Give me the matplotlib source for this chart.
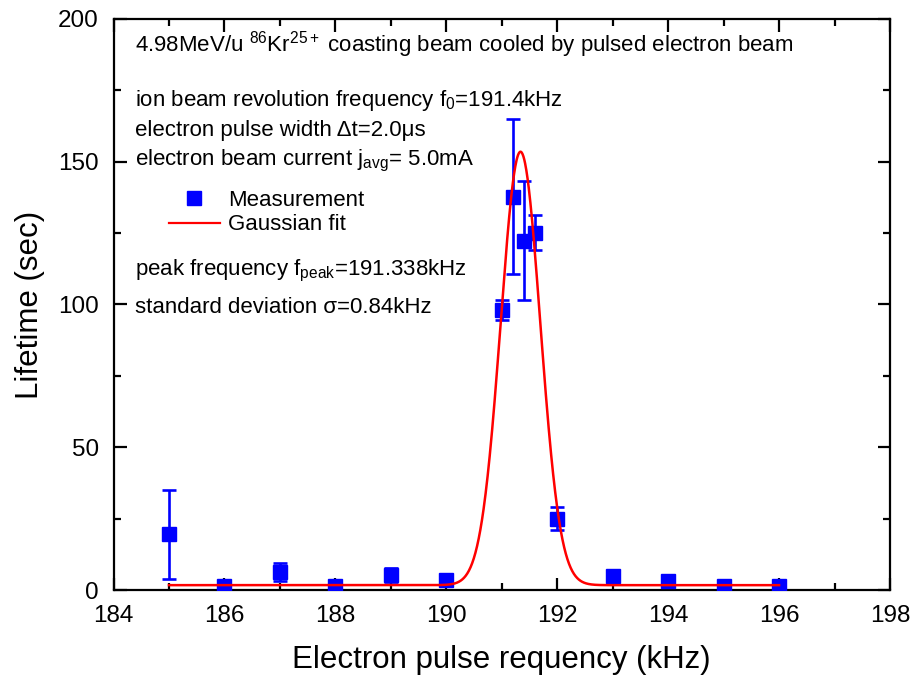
import numpy as np
import matplotlib
matplotlib.use("Agg")
import matplotlib.pyplot as plt
from matplotlib.ticker import MultipleLocator
from matplotlib.lines import Line2D

plt.rcParams["font.family"] = ["Liberation Sans", "DejaVu Sans"]
plt.rcParams["mathtext.fontset"] = "custom"
plt.rcParams["mathtext.rm"] = "Liberation Sans"
plt.rcParams["mathtext.it"] = "Liberation Sans"

# Measured lifetimes vs. electron pulse frequency
freq_khz = [185.0, 186.0, 187.0, 188.0, 189.0, 190.0, 191.0, 191.2, 191.4, 191.6,
            192.0, 193.0, 194.0, 195.0, 196.0]
lifetime_s = [19.5, 1.4, 6.3, 1.5, 5.2, 3.5, 98.0, 137.8, 122.3, 125.1,
              25.0, 4.9, 3.1, 1.5, 1.4]
lifetime_err = [15.7, 0.8, 3.0, 0.8, 2.4, 1.2, 3.6, 27.0, 20.8, 6.1,
                4.1, 0.8, 0.8, 0.6, 1.0]

# Gaussian fit parameters
f_peak = 191.338
fwhm = 0.84
amplitude = 151.8
baseline = 1.7
fit_range = (185.0, 196.0)

fig = plt.figure(figsize=(9.14, 6.77), dpi=100)
ax = fig.add_axes([0.1242, 0.1285, 0.8495, 0.8435])

sigma = fwhm / (2.0 * np.sqrt(2.0 * np.log(2.0)))
xf = np.linspace(fit_range[0], fit_range[1], 1500)
yf = baseline + amplitude * np.exp(-(xf - f_peak) ** 2 / (2.0 * sigma ** 2))

ax.errorbar(freq_khz, lifetime_s, yerr=lifetime_err, fmt="s", color="#0000ff",
            ms=9.5, elinewidth=1.9, capsize=5, capthick=1.9, zorder=3)
ax.plot(xf, yf, color="#ff0000", lw=1.8, zorder=4)

ax.set_xlim(184, 198)
ax.set_ylim(0, 200)
ax.xaxis.set_major_locator(MultipleLocator(2))
ax.xaxis.set_minor_locator(MultipleLocator(1))
ax.yaxis.set_major_locator(MultipleLocator(50))
ax.yaxis.set_minor_locator(MultipleLocator(25))
ax.tick_params(which="both", direction="in", top=True, right=True, width=1.6)
ax.tick_params(which="major", length=9, labelsize=17.5, pad=10.5)
ax.tick_params(which="minor", length=5)
for sp in ax.spines.values():
    sp.set_linewidth(1.6)

ax.set_xlabel("Electron pulse requency (kHz)", fontsize=22.5, labelpad=13)
ax.set_ylabel("Lifetime (sec)", fontsize=22.5, labelpad=9.5)

tx = 0.0277
fs = 16
ax.text(tx, 0.956, "4.98MeV/u $^{86}$Kr$^{25+}$ coasting beam cooled by pulsed electron beam",
        transform=ax.transAxes, fontsize=fs, va="center")
ax.text(tx, 0.858, "ion beam revolution frequency f$_{0}$=191.4kHz",
        transform=ax.transAxes, fontsize=fs, va="center")
ax.text(tx, 0.804, "electron pulse width \u0394t=2.0\u03bcs",
        transform=ax.transAxes, fontsize=fs, va="center")
ax.text(tx, 0.752, "electron beam current j$_{\\mathrm{avg}}$= 5.0mA",
        transform=ax.transAxes, fontsize=fs, va="center")
ax.text(tx, 0.558, "peak frequency f$_{\\mathrm{peak}}$=191.338kHz",
        transform=ax.transAxes, fontsize=fs, va="center")
ax.text(tx, 0.495, "standard deviation \u03c3=0.84kHz",
        transform=ax.transAxes, fontsize=fs, va="center")

h_meas = Line2D([], [], ls="none", marker="s", color="#0000ff", ms=9.5)
h_fit = Line2D([], [], color="#ff0000", lw=1.6)
ax.legend([h_meas, h_fit], ["Measurement", "Gaussian fit"], loc="upper left",
          bbox_to_anchor=(0.057, 0.72), frameon=False, fontsize=fs,
          handlelength=2.3, handletextpad=0.35, labelspacing=0.15, borderpad=0)

fig.savefig("out.png", dpi=100)
